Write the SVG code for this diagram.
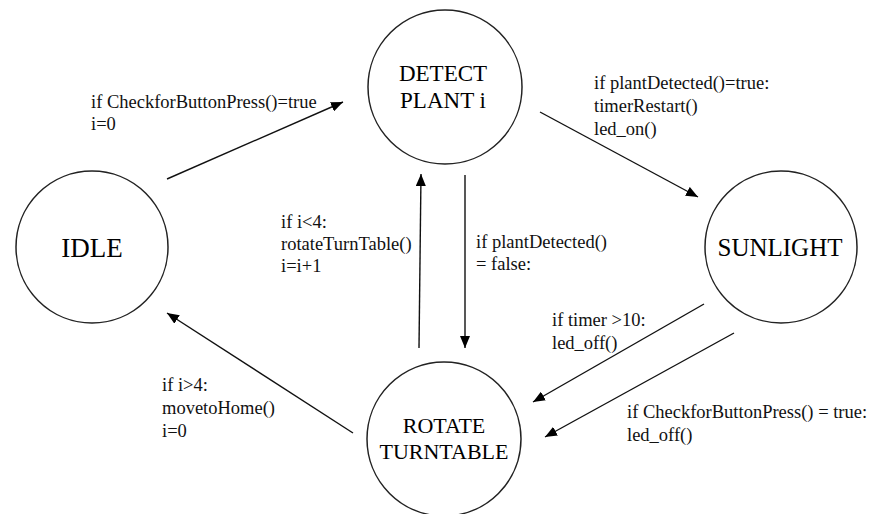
<svg xmlns="http://www.w3.org/2000/svg" width="876" height="514" viewBox="0 0 876 514">
<style>
.node{fill:#fff;stroke:#222;stroke-width:1.5}
.nt{font-family:'Liberation Serif','DejaVu Serif','Times New Roman',Times,serif;fill:#000;text-anchor:middle}
.lb{font-family:'Liberation Serif','DejaVu Serif','Times New Roman',Times,serif;fill:#111;font-size:18.5px}
.edge{stroke:#111;stroke-width:1.4;fill:none;marker-end:url(#ah)}
</style>
<defs>
<marker id="ah" viewBox="0 0 12 10" refX="12" refY="5" markerWidth="12" markerHeight="10" markerUnits="userSpaceOnUse" orient="auto">
<path d="M0,0 L12,5 L0,10 Z" fill="#000"/>
</marker>
</defs>
<rect width="876" height="514" fill="#fff"/>
<g id="idle">
<circle class="node" cx="92" cy="247" r="76"/>
<text class="nt" x="92" y="257" font-size="27">IDLE</text>
</g>
<g id="detect">
<circle class="node" cx="445" cy="87" r="77"/>
<text class="nt" x="443" y="81" font-size="23">DETECT</text>
<text class="nt" x="443" y="108" font-size="23">PLANT i</text>
</g>
<g id="sunlight">
<circle class="node" cx="781" cy="247" r="76"/>
<text class="nt" x="780" y="256" font-size="25">SUNLIGHT</text>
</g>
<g id="rotate">
<circle class="node" cx="444" cy="439" r="77"/>
<text class="nt" x="444" y="433" font-size="22">ROTATE</text>
<text class="nt" x="444" y="459" font-size="22">TURNTABLE</text>
</g>
<g id="connectors">
<line class="edge" x1="167" y1="179" x2="343" y2="102"/>
<line class="edge" x1="540" y1="112" x2="698" y2="197"/>
<line class="edge" x1="419" y1="348" x2="421" y2="174"/>
<line class="edge" x1="465" y1="175" x2="465" y2="348"/>
<line class="edge" x1="353" y1="433" x2="167" y2="313"/>
<line class="edge" x1="704" y1="304" x2="533" y2="402"/>
<line class="edge" x1="734" y1="333" x2="545" y2="437"/>
</g>
<g id="labels">
<text class="lb" x="91" y="108">if CheckforButtonPress()=true</text>
<text class="lb" x="91" y="130">i=0</text>
<text class="lb" x="594" y="89">if plantDetected()=true:</text>
<text class="lb" x="594" y="112">timerRestart()</text>
<text class="lb" x="594" y="135">led_on()</text>
<text class="lb" x="281" y="228">if i&lt;4:</text>
<text class="lb" x="281" y="250">rotateTurnTable()</text>
<text class="lb" x="281" y="272">i=i+1</text>
<text class="lb" x="476" y="248">if plantDetected()</text>
<text class="lb" x="476" y="270">= false:</text>
<text class="lb" x="162" y="391">if i&gt;4:</text>
<text class="lb" x="162" y="414">movetoHome()</text>
<text class="lb" x="162" y="437">i=0</text>
<text class="lb" x="552" y="326">if timer &gt;10:</text>
<text class="lb" x="552" y="349">led_off()</text>
<text class="lb" x="627" y="418">if CheckforButtonPress() = true:</text>
<text class="lb" x="627" y="441">led_off()</text>
</g>
</svg>
